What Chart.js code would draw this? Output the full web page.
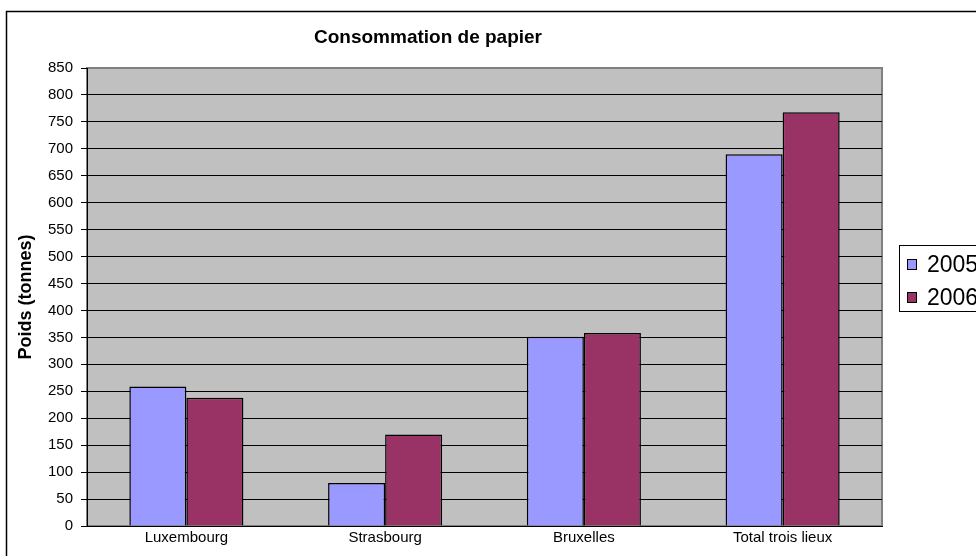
<!DOCTYPE html>
<html>
<head>
<meta charset="utf-8">
<script src="https://cdn.jsdelivr.net/npm/chart.js@4"></script>
<style>
  html, body { margin: 0; padding: 0; background: #fff; overflow: hidden; }
  #wrap { width: 976px; height: 556px; position: relative; }
</style>
</head>
<body>
<div id="wrap"><canvas id="chart" width="976" height="556"></canvas></div>
<script>
// données
const lieux = ['Luxembourg', 'Strasbourg', 'Bruxelles', 'Total trois lieux'];
const annees = ['2005', '2006'];
const conso2005 = [259, 80, 351, 690];
const conso2006 = [238, 170, 358, 768];
const graduations = { min: 0, max: 850, pas: 50 };

const titre = 'Consommation de papier';
const titreAxe = 'Poids (tonnes)';
const police = "'Liberation Sans', Arial, sans-serif";

// fond gris de la zone de traçage + cadre extérieur
const fondPlugin = {
    id: 'fond',
    beforeDraw(chart) {
        const { ctx, chartArea: a } = chart;
        ctx.save();
        ctx.fillStyle = '#ffffff';
        ctx.fillRect(0, 0, chart.width, chart.height);
        ctx.strokeStyle = '#000';
        ctx.lineWidth = 1.5;
        ctx.strokeRect(6.5, 11.5, 1200, 1200);
        ctx.fillStyle = '#C0C0C0';
        ctx.fillRect(a.left, a.top, a.right - a.left, a.bottom - a.top);
        ctx.strokeStyle = '#808080';
        ctx.lineWidth = 2;
        ctx.strokeRect(a.left, a.top, a.right - a.left, a.bottom - a.top);
        ctx.restore();
    }
};

// titre et légende dessinés à la façon d'Excel (légende coupée au bord)
const legendePlugin = {
    id: 'legendeExcel',
    afterDraw(chart) {
        const { ctx } = chart;
        ctx.save();
        ctx.fillStyle = '#000';
        ctx.font = 'bold 19px ' + police;
        ctx.textAlign = 'center';
        ctx.textBaseline = 'alphabetic';
        ctx.fillText(titre, 428, 43);

        ctx.strokeStyle = '#000';
        ctx.lineWidth = 1;
        ctx.strokeRect(899.5, 245.5, 200, 66);
        ctx.font = '23px ' + police;
        ctx.textAlign = 'left';
        ctx.textBaseline = 'middle';
        chart.data.datasets.forEach((ds, i) => {
            const y = 259 + i * 33;
            ctx.fillStyle = ds.backgroundColor;
            ctx.fillRect(907.5, y + 0.5, 9, 10);
            ctx.strokeRect(907.5, y + 0.5, 9, 10);
            ctx.fillStyle = '#000';
            ctx.fillText(ds.label, 927, y + 6.5);
        });
        ctx.restore();
    }
};

new Chart(document.getElementById('chart'), {
    type: 'bar',
    data: {
        labels: lieux,
        datasets: [
            { label: annees[0], data: conso2005, backgroundColor: '#9999FF', borderColor: '#000', borderWidth: 1.5 },
            { label: annees[1], data: conso2006, backgroundColor: '#993366', borderColor: '#000', borderWidth: 1.5 }
        ]
    },
    options: {
        responsive: false,
        animation: false,
        layout: { padding: { top: 68, left: 6, right: 94, bottom: 0 } },
        datasets: { bar: { categoryPercentage: 0.574, barPercentage: 1 } },
        plugins: {
            legend: { display: false },
            title: { display: false },
            tooltip: { enabled: false }
        },
        scales: {
            x: {
                grid: { display: false, drawTicks: false },
                border: { display: true, color: '#000', width: 1 },
                ticks: { color: '#000', font: { family: police, size: 15 }, padding: 3, maxRotation: 0 },
                afterFit(scale) { scale.height = 30; }
            },
            y: {
                min: graduations.min,
                max: graduations.max,
                ticks: { stepSize: graduations.pas, color: '#000', font: { family: police, size: 15 }, padding: 8 },
                grid: {
                    color: (c) => c.tick && c.tick.value === graduations.max ? '#808080' : '#000',
                    tickColor: '#000',
                    tickLength: 6,
                    lineWidth: 1
                },
                border: { display: true, color: '#000', width: 1 },
                title: {
                    display: true,
                    text: titreAxe,
                    color: '#000',
                    font: { family: police, size: 18, weight: 'bold' },
                    padding: { top: 9, bottom: 0 }
                },
                afterFit(scale) { scale.width = 81; }
            }
        }
    },
    plugins: [fondPlugin, legendePlugin]
});
</script>
</body>
</html>
